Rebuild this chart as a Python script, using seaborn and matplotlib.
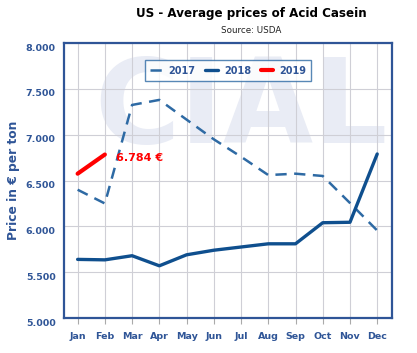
import matplotlib
matplotlib.use("Agg")
import matplotlib.pyplot as plt
import matplotlib.transforms as mtransforms
import seaborn as sns
import pandas as pd
from matplotlib.ticker import FuncFormatter

months = ["Jan", "Feb", "Mar", "Apr", "May", "Jun", "Jul", "Aug", "Sep", "Oct", "Nov", "Dec"]
prices_2017 = [6400, 6250, 7325, 7380, 7165, 6950, 6760, 6560, 6575, 6550, 6255, 5955]
prices_2018 = [5640, 5635, 5680, 5570, 5690, 5740, 5775, 5810, 5810, 6040, 6045, 6790]
prices_2019 = [6575, 6784]
yticks = [5000, 5500, 6000, 6500, 7000, 7500, 8000]

sns.set_theme(style="white")
plt.rcParams['font.family'] = ['DejaVu Sans']

blue_dark = "#0f4f8e"
blue_light = "#2e6aa4"
axis_blue = "#2f5597"

fig = plt.figure(figsize=(4.17, 3.53), dpi=100)
ax = fig.add_axes([0.1535, 0.099, 0.787, 0.779])

# watermark logo
ax.text(6.0, 6910, "CIAL", fontsize=84, fontweight="bold", color="#e9ecf5",
        ha="center", va="baseline", zorder=0)

df17 = pd.DataFrame({"m": range(12), "v": prices_2017})
df18 = pd.DataFrame({"m": range(12), "v": prices_2018})
df19 = pd.DataFrame({"m": range(len(prices_2019)), "v": prices_2019})

sns.lineplot(data=df17, x="m", y="v", ax=ax, color=blue_light, linewidth=1.8,
             linestyle=(0, (4.5, 3)), label="2017", zorder=3)
sns.lineplot(data=df18, x="m", y="v", ax=ax, color=blue_dark, linewidth=2.4,
             label="2018", zorder=3)
sns.lineplot(data=df19, x="m", y="v", ax=ax, color="#ff0000", linewidth=3.0,
             label="2019", zorder=4)

ax.text(1.4, prices_2019[-1] - 40, "6.784 €", color="#ff0000", fontsize=8,
        fontweight="bold", ha="left", va="center", zorder=5)

ax.set_xlim(-0.5, 11.55)
ax.set_ylim(5000, 8000)
ax.set_xticks(range(12))
ax.set_xticklabels(months)
ax.set_yticks(yticks)
ax.yaxis.set_major_formatter(FuncFormatter(lambda v, p: f"{v/1000:.3f}"))
ax.grid(True, color="#cfcfd6", linewidth=0.8, zorder=1)
ax.set_axisbelow(True)
for s in ax.spines.values():
    s.set_color(axis_blue)
    s.set_linewidth(1.6)
ax.tick_params(axis="y", labelsize=6.8, colors=axis_blue, length=0, pad=6)
ax.tick_params(axis="x", labelsize=6.8, colors="#aaaaaa", labelcolor=axis_blue,
               length=4, width=0.8, pad=6, direction="out", bottom=True)
off = mtransforms.ScaledTranslation(0, -4 / 100, fig.dpi_scale_trans)
for lab in ax.get_yticklabels():
    lab.set_fontweight("bold")
    lab.set_color(axis_blue)
    lab.set_transform(lab.get_transform() + off)
for lab in ax.get_xticklabels():
    lab.set_fontweight("bold")
    lab.set_color(axis_blue)

ax.set_xlabel("")
ax.set_ylabel("Price in € per ton", fontsize=8.8, fontweight="bold", color=axis_blue)
ax.yaxis.set_label_coords(-0.134, 0.5)

leg = ax.legend(loc="upper center", bbox_to_anchor=(0.5, 0.955), ncol=3, fontsize=7,
                frameon=True, fancybox=False, handlelength=1.3, columnspacing=1.0,
                handletextpad=0.6, borderpad=0.55)
leg.get_frame().set_edgecolor(blue_light)
leg.get_frame().set_linewidth(1.0)
for t in leg.get_texts():
    t.set_fontweight("bold")
    t.set_color(axis_blue)

fig.text(0.602, 0.963, "US - Average prices of Acid Casein", ha="center", va="center",
         fontsize=8.6, fontweight="bold", color="black")
fig.text(0.602, 0.915, "Source: USDA", ha="center", va="center", fontsize=6.3, color="#222222")

fig.savefig("out.png", dpi=100)
